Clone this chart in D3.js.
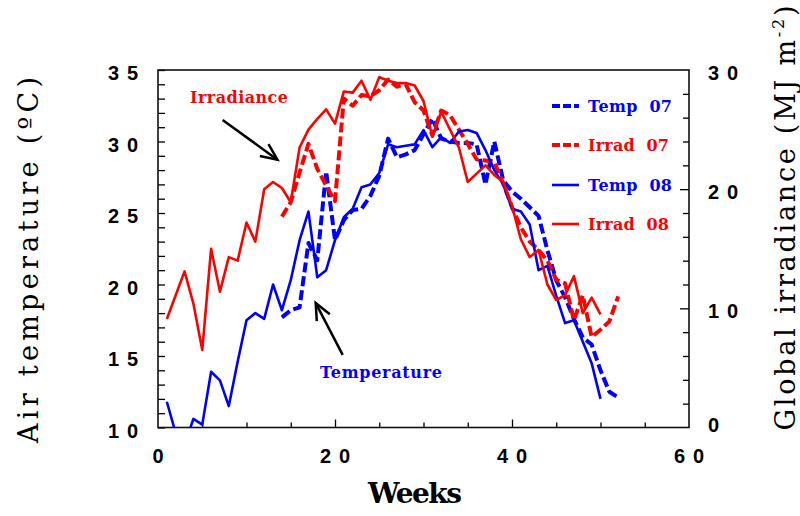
<!DOCTYPE html>
<html><head><meta charset="utf-8">
<script src="https://cdn.jsdelivr.net/npm/d3@7/dist/d3.min.js"></script>
<style>
html,body{margin:0;padding:0;background:#fff;}
svg{display:block;}
</style></head>
<body>
<svg id="chart" width="800" height="516"></svg>
<script>
// ---- data ----
const weeks07 = [14,15,16,17,18,19,20,21,22,23,24,25,26,27,28,29,30,31,32,33,34,35,36,37,38,39,40,41,42,43,44,45,46,47,48,49,50,51,52];
const temp07  = [17.7,18.2,18.4,22.9,21.7,27.9,23.1,24.5,25.2,25.3,
                 26.2,27.6,30.2,28.9,29.1,29.4,30.5,31.6,30.2,30.0,
                 29.9,29.9,29.8,27.0,30.0,27.3,26.5,26.0,25.4,24.8,
                 22.4,20.3,19.1,17.6,16.3,15.8,14.0,12.5,12.1];
const irrad07 = [17.7,18.9,21.4,23.8,21.7,20.3,19.0,27.6,27.0,27.9,
                 27.8,28.3,29.2,28.6,28.8,27.3,26.6,24.5,26.6,26.2,
                 25.0,23.8,22.5,22.4,22.3,20.5,18.5,16.8,15.6,14.9,
                 14.0,12.4,12.1,9.0,11.1,7.6,8.2,8.9,11.0];
const weeks08 = [1,2,3,4,5,6,7,8,9,10,11,12,13,14,15,16,17,18,19,20,21,22,23,24,25,26,27,28,29,30,31,32,33,34,35,36,37,38,39,40,41,42,43,44,45,46,47,48,49,50];
const temp08  = [11.8,9.6,8.8,10.6,10.2,13.9,13.3,11.5,14.6,17.5,
                 18.0,17.6,20.0,18.2,20.3,23.1,25.1,20.5,21.0,23.1,
                 24.7,25.3,26.8,27.0,27.8,29.8,29.6,29.7,29.8,30.8,
                 29.6,30.3,29.9,30.7,30.8,30.6,29.4,28.0,27.0,25.3,
                 25.1,24.2,21.0,21.3,19.2,17.3,17.5,16.0,14.5,12.0];
const irrad08 = [9.1,11.1,13.1,10.4,6.5,15.0,11.4,14.3,14.0,17.2,
                 15.6,20.0,20.6,20.1,18.9,23.5,25.0,25.9,26.7,25.5,
                 28.2,28.1,29.1,27.5,29.4,29.1,28.9,28.9,28.7,27.4,
                 24.4,26.5,25.0,23.5,20.6,21.3,22.0,21.2,20.6,18.6,
                 15.8,14.3,14.9,12.0,10.7,11.1,12.7,9.6,10.9,9.5];
const xTickLabels = [0,20,40,60];
const yLeftTickLabels = [10,15,20,25,30,35];
const yRightTickLabels = [0,10,20,30];
const legendLabels = ["Temp  07","Irrad  07","Temp  08","Irrad  08"];

// ---- layout ----
const svg = d3.select("#chart");
const L = 158, R = 689, T = 70, B = 427.5;
const x = d3.scaleLinear().domain([0,60]).range([L,R]);
const yT = d3.scaleLinear().domain([10,35]).range([B,T]);
const yI = d3.scaleLinear().domain([0,30]).range([B,T]);
const BLUE = "#0000ff", RED = "#ff0000";

svg.append("defs").append("clipPath").attr("id","plot")
  .append("rect").attr("x",L).attr("y",T).attr("width",R-L).attr("height",B-T);

// ticks
function styleAxis(g){ g.select(".domain").remove(); g.selectAll("line").attr("stroke","#000").attr("stroke-width",1.3); g.selectAll("text").remove(); }
svg.append("g").attr("transform",`translate(0,${B})`)
  .call(d3.axisBottom(x).tickValues(d3.range(0,61,5).filter(v=>v%20!==0)).tickSize(-5)).call(styleAxis);
svg.append("g").attr("transform",`translate(0,${B})`)
  .call(d3.axisBottom(x).tickValues([20,40]).tickSize(-8)).call(styleAxis);
svg.append("g").attr("transform",`translate(${L},0)`)
  .call(d3.axisLeft(yT).tickValues(d3.range(10,36,1)).tickSize(-7)).call(styleAxis);
svg.append("g").attr("transform",`translate(${R},0)`)
  .call(d3.axisRight(yI).tickValues(d3.range(0,31,2).filter(v=>v%10!==0)).tickSize(-6)).call(styleAxis);
svg.append("g").attr("transform",`translate(${R},0)`)
  .call(d3.axisRight(yI).tickValues([10,20]).tickSize(-9)).call(styleAxis);

// frame
svg.append("rect").attr("x",L).attr("y",T).attr("width",R-L).attr("height",B-T)
  .attr("fill","none").attr("stroke","#111").attr("stroke-width",1.6);

// tick labels
const tickFont = "'Liberation Sans', Arial, sans-serif";
function lab(sel){ return sel.attr("font-family",tickFont).attr("font-weight","bold").attr("font-size",20).attr("fill","#000"); }
xTickLabels.forEach(v=>{
  const t = lab(svg.append("text")).attr("x",x(v)).attr("y",463).attr("text-anchor","middle").text(String(v));
  if(String(v).length>1) t.attr("textLength",30).attr("lengthAdjust","spacing");
});
yLeftTickLabels.forEach(v=>{
  lab(svg.append("text")).attr("x",138).attr("y",yT(v)+10).attr("text-anchor","end")
    .attr("textLength",30).attr("lengthAdjust","spacing").text(String(v));
});
yRightTickLabels.forEach(v=>{
  const t = lab(svg.append("text")).attr("x",708).attr("y",v===0?yI(v)+4:yI(v)+10).text(String(v));
  if(String(v).length>1) t.attr("textLength",30).attr("lengthAdjust","spacing");
});

// axis titles
const serif = "'DejaVu Serif', 'Liberation Serif', serif";
svg.append("text").attr("transform","translate(38,260) rotate(-90)").attr("text-anchor","middle")
  .attr("font-family",serif).attr("font-size",27).attr("fill","#000")
  .attr("textLength",366).attr("lengthAdjust","spacing").text("Air temperature (ºC)");
const rt = svg.append("text").attr("transform","translate(795,218) rotate(-90)").attr("text-anchor","middle")
  .attr("font-family",serif).attr("font-size",27).attr("fill","#000")
  .attr("textLength",425).attr("lengthAdjust","spacing");
rt.append("tspan").text("Global irradiance (MJ  m");
rt.append("tspan").attr("font-size",16).attr("dy",-11).text("-2");
rt.append("tspan").attr("dy",11).text(")");
svg.append("text").attr("x",415).attr("y",503).attr("text-anchor","middle")
  .attr("font-family",serif).attr("font-weight","bold").attr("font-size",28).attr("fill","#000")
  .attr("textLength",94).attr("lengthAdjust","spacing").text("Weeks");

// series
const plot = svg.append("g").attr("clip-path","url(#plot)");
const series = [
  {w:weeks07, v:temp07, y:yT, color:BLUE, dash:true},
  {w:weeks07, v:irrad07, y:yI, color:RED, dash:true},
  {w:weeks08, v:temp08, y:yT, color:BLUE, dash:false},
  {w:weeks08, v:irrad08, y:yI, color:RED, dash:false},
];
series.forEach(s=>{
  const line = d3.line().x((d,i)=>x(s.w[i])).y(d=>s.y(d));
  plot.append("path").attr("d",line(s.v)).attr("fill","none").attr("stroke",s.color)
    .attr("stroke-width",s.dash?4:2.6).attr("stroke-linejoin","round")
    .attr("stroke-dasharray",s.dash?"10,4":null);
});

// legend
const legY = [106,145,185,224];
series.forEach((s,i)=>{
  svg.append("line").attr("x1",552).attr("x2",579).attr("y1",legY[i]).attr("y2",legY[i])
    .attr("stroke",s.color).attr("stroke-width",s.dash?4:2.6).attr("stroke-dasharray",s.dash?"8,3":null);
  svg.append("text").attr("x",588).attr("y",legY[i]+6).attr("font-family",serif).attr("font-weight","bold")
    .attr("font-size",16).attr("fill",s.color).attr("xml:space","preserve").style("white-space","pre")
    .attr("textLength",i%2===0?84:81).attr("lengthAdjust","spacing").text(legendLabels[i]);
});

// annotations (data units)
const annIrr = {text:"Irradiance", tx:9.15, ty:32.72, from:[7.3,31.5], to:[13.5,28.73], color:RED, w:98};
const annTmp = {text:"Temperature", tx:25.2, ty:13.47, from:[20.87,15.08], to:[17.82,18.70], color:BLUE, w:122};
[annIrr, annTmp].forEach(a=>{
  svg.append("text").attr("x",x(a.tx)).attr("y",yT(a.ty)).attr("text-anchor","middle")
    .attr("font-family",serif).attr("font-weight","bold").attr("font-size",16).attr("fill",a.color)
    .attr("textLength",a.w).attr("lengthAdjust","spacing").text(a.text);
  const x1=x(a.from[0]), y1=yT(a.from[1]), x2=x(a.to[0]), y2=yT(a.to[1]);
  svg.append("line").attr("x1",x1).attr("y1",y1).attr("x2",x2).attr("y2",y2)
    .attr("stroke","#000").attr("stroke-width",2.5);
  const ang = Math.atan2(y2-y1,x2-x1), hl=18, spread=0.42;
  const p = a2=>[x2-hl*Math.cos(a2), y2-hl*Math.sin(a2)];
  const pa=p(ang-spread), pb=p(ang+spread);
  svg.append("path").attr("d",`M${pa[0]},${pa[1]}L${x2},${y2}L${pb[0]},${pb[1]}`)
    .attr("fill","none").attr("stroke","#000").attr("stroke-width",2.5);
});
</script>
</body></html>
